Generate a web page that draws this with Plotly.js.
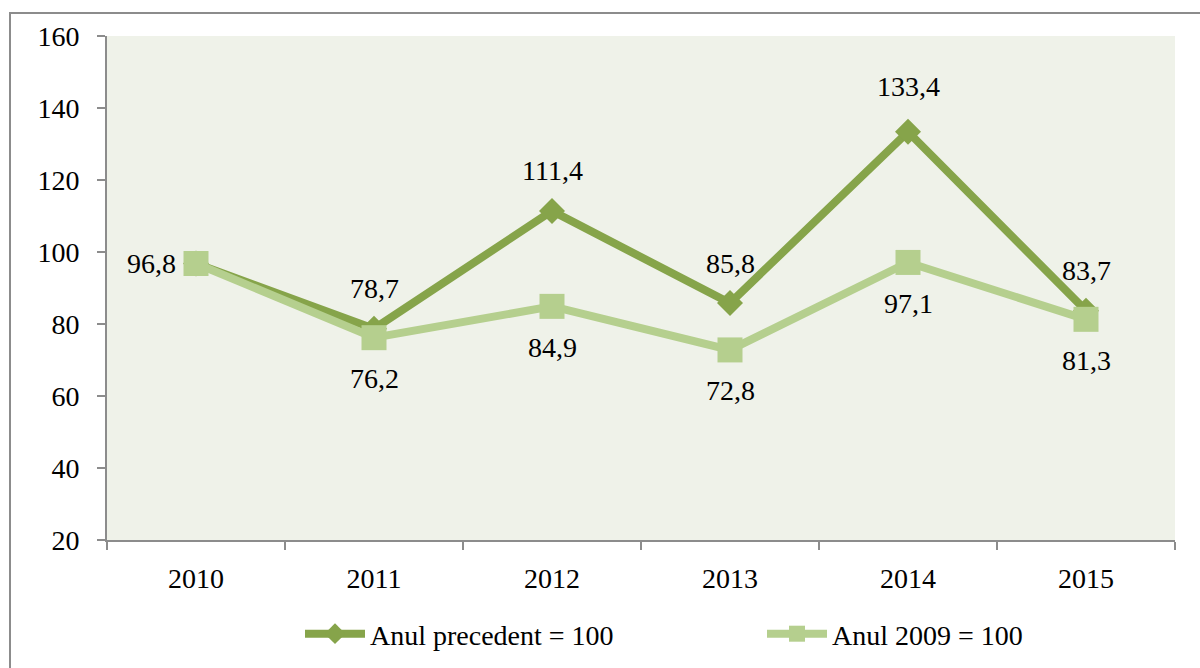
<!DOCTYPE html>
<html><head><meta charset="utf-8">
<script src="https://cdn.plot.ly/plotly-3.0.1.min.js"></script>
<style>
html,body{margin:0;padding:0;background:#fff;}
#frame{position:absolute;left:9px;top:12px;width:1200px;height:670px;border:2px solid #8c8c8c;box-sizing:border-box;}
#chart{position:absolute;left:0;top:0;width:1200px;height:668px;}
</style></head>
<body>
<div id="frame"></div>
<div id="chart"></div>
<script>
var years = ['2010','2011','2012','2013','2014','2015'];
var prevYear = [96.8, 78.7, 111.4, 85.8, 133.4, 83.7];
var base2009 = [96.8, 76.2, 84.9, 72.8, 97.1, 81.3];
var prevLabels = ['96,8','78,7','111,4','85,8','133,4','83,7'];
var baseLabels = ['','76,2','84,9','72,8','97,1','81,3'];
var seriesNames = ['Anul precedent = 100','Anul 2009 = 100'];
var yTicks = [20,40,60,80,100,120,140,160];

var FONT = "'Liberation Serif', 'Times New Roman', serif";
var FS = 28;
var DARK = '#86A44A', LIGHT = '#B5CF8E';

var traces = [
 {x: years, y: prevYear, name: seriesNames[0], type:'scatter', mode:'lines+markers',
  line:{color:DARK, width:8}, marker:{symbol:'diamond', size:20, color:DARK}, legend:'legend'},
 {x: years, y: base2009, name: seriesNames[1], type:'scatter', mode:'lines+markers',
  line:{color:LIGHT, width:8}, marker:{symbol:'square', size:25, color:LIGHT}, legend:'legend2'}
];

var annotations = [];
for (var i = 0; i < years.length; i++) {
  if (prevLabels[i]) {
    var a = {xref:'x', yref:'y', x: i, y: prevYear[i], text: prevLabels[i], showarrow:false,
             font:{family:FONT,size:FS,color:'#000'}, xanchor:'center', yanchor:'middle', yshift: 40};
    if (i === 0) { a.xanchor = 'right'; a.yshift = 0; a.xshift = -18; }
    if (i === 4) { a.yshift = 45; }
    annotations.push(a);
  }
  if (baseLabels[i]) {
    annotations.push({xref:'x', yref:'y', x: i, y: base2009[i], text: baseLabels[i], showarrow:false,
             font:{family:FONT,size:FS,color:'#000'}, xanchor:'center', yanchor:'middle', yshift: -41});
  }
}

var legendCommon = {orientation:'h', yanchor:'middle', y:-0.1865, xanchor:'left', font:{family:FONT,size:FS}, itemwidth:60, bgcolor:'rgba(0,0,0,0)'};
var layout = {
 width:1200, height:668,
 margin:{l:107, r:25, t:36, b:128, autoexpand:false},
 paper_bgcolor:'rgba(0,0,0,0)', plot_bgcolor:'#EFF2E9',
 font:{family:FONT, size:FS, color:'#000'},
 showlegend:true,
 legend: Object.assign({}, legendCommon, {x:(300-107)/1068}),
 legend2: Object.assign({}, legendCommon, {x:(762-107)/1068}),
 annotations: annotations,
 xaxis:{type:'category', range:[-0.5,5.5], showgrid:false, showline:true, linecolor:'#8c8c8c', linewidth:2,
   ticks:'outside', ticklen:8, tickcolor:'#8c8c8c', tickwidth:2, tickson:'boundaries', ticklabelstandoff:12, fixedrange:true},
 yaxis:{range:[20,160], tickvals:yTicks, showgrid:false, showline:true, linecolor:'#8c8c8c', linewidth:2,
   ticks:'outside', ticklen:8, tickcolor:'#8c8c8c', tickwidth:2, zeroline:false, ticklabelstandoff:12, fixedrange:true}
};
Plotly.newPlot('chart', traces, layout, {displayModeBar:false, staticPlot:true});
</script>
</body></html>
